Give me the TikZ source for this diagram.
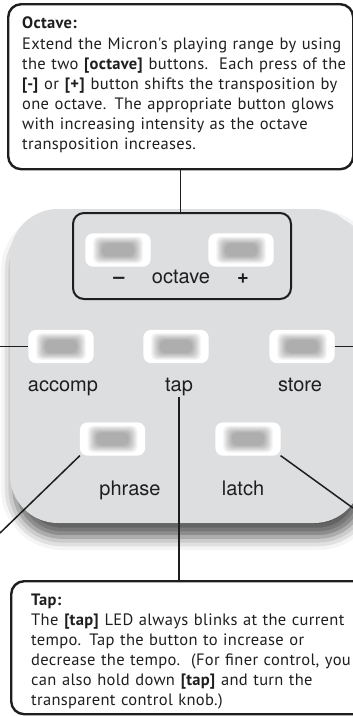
\documentclass[tikz,border=0pt]{standalone}
\usepackage{fontspec}
\usepackage{tikz}
\usetikzlibrary{positioning,shadows.blur}

\definecolor{panelgray}{RGB}{221,222,224}
\definecolor{inkgray}{RGB}{30,30,30}
\newfontfamily\calloutfont[LetterSpace=2]{PT Sans}
\newfontfamily\panelfont{TeX Gyre Heros}
\newcommand{\nl}{\\[2.4pt]}

\tikzset{
    ledbutton/.style={
        draw=white,
        line width=1.2pt,
        fill=white,
        rounded corners=7pt,
        minimum width=64pt,
        minimum height=32pt,
        inner sep=0pt,
        path picture={
            \foreach \k in {0,...,9}
            {
                \fill[black, opacity=0.035, rounded corners=5pt]
                ([xshift=7pt+\k*1pt, yshift=2.5pt+\k*0.8pt]path picture bounding box.south west) rectangle
                ([xshift=-7pt-\k*1pt, yshift=-2.5pt-\k*0.8pt]path picture bounding box.north east);
            }
        }},
    panellabel/.style={
        font=\panelfont\fontsize{20}{24}\selectfont,
        text=inkgray,
        anchor=base,
        inner sep=1pt},
    callout/.style={
        draw=inkgray,
        line width=2.4pt,
        rounded corners=13pt,
        anchor=north west},
    callouttext/.style={
        font=\calloutfont\fontsize{16.5}{17.7}\selectfont,
        text width=335pt,
        align=left,
        anchor=north west,
        inner sep=0pt,
        text=inkgray},
    leader/.style={draw=inkgray, line width=1.5pt}
}

\begin{document}
\begin{tikzpicture}[x=1pt, y=-1pt]
    \path[use as bounding box] (0,0) rectangle (353,716);
    \clip (0,0) rectangle (353,716);

    % micron panel
    \node[fill=panelgray,
    rounded corners=48pt,
    minimum width=352pt,
    minimum height=314pt,
    blur shadow={shadow xshift=4pt, shadow yshift=-14pt, shadow blur radius=13pt, shadow opacity=65}] (Panel) at (186,366) {};

    % octave button group
    \node[draw=inkgray,
    line width=2pt,
    rounded corners=11pt,
    minimum width=218pt,
    minimum height=86pt] (OctaveGroup) at (182,256) {};

    % buttons
    \foreach \name/\x/\y in {OctMinus/118/250, OctPlus/241/250, Accomp/61/346.5, Tap/176/346.5,
        Store/302/346.5, Phrase/112.5/439, Latch/248/439}
    {
        \node[ledbutton] (Btn-\name) at (\x,\y) {};
    }

    % button labels
    \node[panellabel] (MinusLbl) at (119,283) {\textbf{–}};
    \node[panellabel] (OctaveLbl) at (181,283) {octave};
    \node[panellabel] (PlusLbl) at (243,283) {\textbf{+}};
    \node[panellabel] (AccompLbl) at (63,391.5) {accomp};
    \node[panellabel] (TapLbl) at (179,391.5) {tap};
    \node[panellabel] (StoreLbl) at (300,391.5) {store};
    \node[panellabel] (PhraseLbl) at (130,495.5) {phrase};
    \node[panellabel] (LatchLbl) at (243,495.5) {latch};

    % octave callout
    \node[callout,
    minimum width=345pt,
    minimum height=165pt] (OctaveBox) at (7,3) {};
    \node[callouttext] (OctaveText) at (22,17) {\textbf{Octave:}\nl
        Extend the Micron's playing range by using\nl
        the two \textbf{[octave]} buttons.\ \ Each press of the\nl
        \textbf{[-]} or \textbf{[+]} button shifts the transposition by\nl
        one octave. The appropriate button glows\nl
        with increasing intensity as the octave\nl
        transposition increases.};

    % tap callout
    \node[callout,
    minimum width=370pt,
    minimum height=133pt] (TapBox) at (10,580) {};
    \node[callouttext] (TapText) at (31,593.5) {\textbf{Tap:}\nl
        The \textbf{[tap]} LED always blinks at the current\nl
        tempo. Tap the button to increase or\nl
        decrease the tempo.\ \ (For finer control, you\nl
        can also hold down \textbf{[tap]} and turn the\nl
        transparent control knob.)};

    % leader lines
    \coordinate (AccompEnd) at (0,346.5);
    \coordinate (StoreEnd) at (353,346.5);
    \coordinate (PhraseEnd) at (0,533);
    \coordinate (LatchEnd) at (353,508);
    \draw[leader] (OctaveBox.south) -- (OctaveBox.south |- OctaveGroup.north);
    \draw[leader] (AccompEnd) -- (Btn-Accomp.west);
    \draw[leader] (Btn-Store.east) -- (StoreEnd);
    \draw[leader] (TapLbl.south) -- (TapLbl.south |- TapBox.north);
    \draw[leader] (Btn-Phrase.south west) -- (PhraseEnd);
    \draw[leader] (Btn-Latch.south east) -- (LatchEnd);
\end{tikzpicture}
\end{document}
